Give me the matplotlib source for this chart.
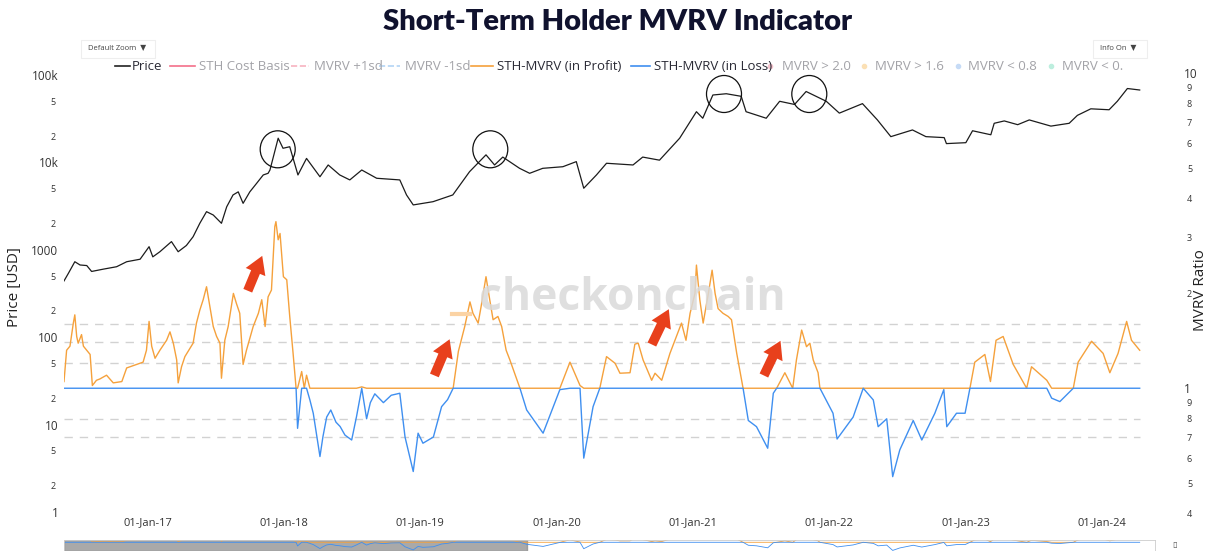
import numpy as np
import pandas as pd
import matplotlib
matplotlib.use("Agg")
import matplotlib.pyplot as plt
import matplotlib.dates as mdates
from matplotlib.ticker import FixedLocator, FixedFormatter, NullFormatter, NullLocator
from matplotlib.patches import Ellipse, FancyArrowPatch, Rectangle, ArrowStyle
from matplotlib.lines import Line2D

plt.rcParams['font.family'] = ['Open Sans', 'DejaVu Sans']

# ---- data ----
price_dates = [
    "2016-05-21", "2016-06-02", "2016-06-19", "2016-07-03", "2016-07-21", "2016-08-03",
    "2016-09-03", "2016-10-09", "2016-11-05", "2016-12-11", "2017-01-04", "2017-01-14",
    "2017-02-02", "2017-03-05", "2017-03-23", "2017-04-14", "2017-05-02", "2017-05-20",
    "2017-06-07", "2017-06-25", "2017-07-17", "2017-07-31", "2017-08-17", "2017-08-31",
    "2017-09-13", "2017-10-01", "2017-10-19", "2017-11-06", "2017-11-19", "2017-11-24",
    "2017-12-16", "2017-12-29", "2018-01-16", "2018-02-07", "2018-03-02", "2018-04-07",
    "2018-04-29", "2018-05-30", "2018-06-26", "2018-07-28", "2018-09-06", "2018-11-07",
    "2018-11-25", "2018-12-13", "2019-02-04", "2019-03-29", "2019-05-13", "2019-06-26",
    "2019-07-19", "2019-08-10", "2019-09-24", "2019-10-21", "2019-11-25", "2020-01-18",
    "2020-02-23", "2020-03-14", "2020-04-17", "2020-05-14", "2020-07-24", "2020-08-19",
    "2020-10-03", "2020-11-26", "2021-01-10", "2021-01-27", "2021-02-23", "2021-03-31",
    "2021-05-10", "2021-05-23", "2021-07-16", "2021-08-21", "2021-09-30", "2021-10-31",
    "2021-12-24", "2022-01-28", "2022-03-31", "2022-05-10", "2022-06-15", "2022-08-12",
    "2022-09-17", "2022-11-05", "2022-11-11", "2023-01-02", "2023-01-20", "2023-03-10",
    "2023-03-19", "2023-04-15", "2023-05-21", "2023-06-21", "2023-08-18", "2023-10-06",
    "2023-10-28", "2023-12-03", "2024-01-21", "2024-02-12", "2024-03-10", "2024-04-12",
]
price_usd = [
    440, 540, 730, 670, 660, 565,
    600, 640, 730, 780, 1085, 830,
    950, 1240, 950, 1120, 1410, 2010,
    2730, 2500, 2010, 3100, 4240, 4600,
    3400, 4600, 5740, 7180, 7500, 8180,
    18900, 14500, 15100, 7180, 11100, 6850,
    9340, 7180, 6300, 8180, 6580, 6300,
    4240, 3260, 3550, 4240, 7830, 12200,
    9340, 11500, 8550, 7500, 8550, 8920,
    10200, 5060, 7180, 9770, 9340, 11500,
    10600, 18900, 38000, 32000, 59000, 61000,
    57000, 38000, 32000, 50000, 46000, 64700,
    50000, 36600, 47000, 30600, 19700, 23500,
    19700, 19200, 16400, 16800, 23000, 20700,
    28000, 29800, 27000, 30600, 26000, 28000,
    34500, 41000, 40000, 50000, 70000, 67300,
]

mvrv_dates = [
    "2016-05-21", "2016-05-28", "2016-06-06", "2016-06-15", "2016-06-19", "2016-06-24",
    "2016-06-28", "2016-07-07", "2016-07-12", "2016-07-21", "2016-07-30", "2016-08-05",
    "2016-08-16", "2016-08-25", "2016-09-12", "2016-09-30", "2016-10-23", "2016-11-05",
    "2016-12-02", "2016-12-19", "2016-12-28", "2017-01-04", "2017-01-11", "2017-01-20",
    "2017-02-02", "2017-02-20", "2017-03-01", "2017-03-10", "2017-03-19", "2017-03-23",
    "2017-04-01", "2017-04-10", "2017-05-02", "2017-05-11", "2017-05-20", "2017-05-29",
    "2017-06-07", "2017-06-16", "2017-06-25", "2017-07-04", "2017-07-13", "2017-07-17",
    "2017-07-26", "2017-08-04", "2017-08-18", "2017-08-26", "2017-09-04", "2017-09-13",
    "2017-09-22", "2017-10-10", "2017-10-24", "2017-11-02", "2017-11-11", "2017-11-19",
    "2017-11-28", "2017-12-07", "2017-12-10", "2017-12-16", "2017-12-21", "2017-12-30",
    "2018-01-08", "2018-01-16", "2018-01-25", "2018-02-02", "2018-02-06", "2018-02-17",
    "2018-02-24", "2018-03-02", "2018-03-11", "2018-03-20", "2018-04-07", "2018-04-15",
    "2018-04-25", "2018-05-06", "2018-05-20", "2018-05-31", "2018-06-13", "2018-07-01",
    "2018-07-14", "2018-07-28", "2018-08-10", "2018-08-20", "2018-09-01", "2018-09-24",
    "2018-10-15", "2018-11-07", "2018-11-21", "2018-12-13", "2018-12-26", "2019-01-08",
    "2019-02-05", "2019-02-27", "2019-03-15", "2019-03-30", "2019-04-13", "2019-04-30",
    "2019-05-14", "2019-05-22", "2019-06-05", "2019-06-13", "2019-06-26", "2019-07-06",
    "2019-07-15", "2019-07-28", "2019-08-07", "2019-08-19", "2019-08-29", "2019-09-25",
    "2019-10-13", "2019-11-26", "2020-01-10", "2020-02-06", "2020-03-04", "2020-03-14",
    "2020-04-08", "2020-04-26", "2020-05-14", "2020-06-06", "2020-06-19", "2020-07-16",
    "2020-07-29", "2020-08-07", "2020-08-20", "2020-09-12", "2020-09-21", "2020-10-09",
    "2020-10-31", "2020-12-01", "2020-12-13", "2020-12-24", "2021-01-06", "2021-01-10",
    "2021-01-19", "2021-01-28", "2021-02-11", "2021-02-21", "2021-03-01", "2021-03-09",
    "2021-03-22", "2021-04-05", "2021-04-14", "2021-04-28", "2021-05-15", "2021-05-29",
    "2021-06-20", "2021-07-20", "2021-08-04", "2021-08-13", "2021-09-04", "2021-09-25",
    "2021-10-05", "2021-10-19", "2021-11-01", "2021-11-10", "2021-11-19", "2021-12-02",
    "2021-12-07", "2022-01-11", "2022-01-22", "2022-03-06", "2022-04-02", "2022-04-29",
    "2022-05-12", "2022-06-04", "2022-06-20", "2022-07-09", "2022-08-14", "2022-09-06",
    "2022-10-11", "2022-11-04", "2022-11-12", "2022-12-08", "2022-12-31", "2023-01-13",
    "2023-01-26", "2023-02-22", "2023-03-09", "2023-03-24", "2023-04-12", "2023-05-09",
    "2023-06-14", "2023-06-27", "2023-08-07", "2023-08-20", "2023-09-11", "2023-10-17",
    "2023-10-30", "2023-12-05", "2024-01-05", "2024-01-23", "2024-02-14", "2024-03-08",
    "2024-03-21", "2024-04-12",
]
sth_mvrv = [
    1.05, 1.32, 1.36, 1.61, 1.71, 1.46,
    1.39, 1.48, 1.36, 1.32, 1.28, 1.02,
    1.06, 1.07, 1.10, 1.04, 1.05, 1.16,
    1.19, 1.21, 1.32, 1.63, 1.36, 1.245,
    1.32, 1.42, 1.51, 1.39, 1.23, 1.04,
    1.17, 1.26, 1.39, 1.61, 1.77, 1.91,
    2.10, 1.82, 1.57, 1.46, 1.39, 1.076,
    1.42, 1.57, 2.0, 1.86, 1.73, 1.19,
    1.32, 1.57, 1.73, 1.91, 1.57, 1.95,
    2.05, 3.26, 3.38, 2.96, 3.10, 2.26,
    2.21, 1.69, 1.29, 1.0, 0.746, 1.13,
    1.0, 1.10, 0.918, 0.833, 0.607, 0.702,
    0.81, 0.853, 0.78, 0.756, 0.71, 0.685,
    0.813, 1.01, 0.80, 0.90, 0.96, 0.90,
    0.95, 0.964, 0.70, 0.544, 0.72, 0.669,
    0.70, 0.874, 0.92, 1.0, 1.31, 1.57,
    1.88, 1.73, 1.61, 1.82, 2.26, 1.91,
    1.65, 1.69, 1.57, 1.32, 1.23, 1.0,
    0.853, 0.72, 0.99, 1.21, 1.02, 0.60,
    0.874, 1.0, 1.26, 1.2, 1.116, 1.12,
    1.38, 1.39, 1.23, 1.06, 1.116, 1.06,
    1.29, 1.61, 1.42, 1.73, 2.0, 2.46,
    1.91, 1.61, 2.0, 2.37, 2.0, 1.79,
    1.73, 1.69, 1.65, 1.29, 1.0, 0.79,
    0.755, 0.645, 0.964, 1.0, 1.12, 1.0,
    1.23, 1.53, 1.355, 1.39, 1.23, 1.12,
    1.0, 0.833, 0.69, 0.81, 1.0, 0.918,
    0.755, 0.80, 0.524, 0.637, 0.79, 0.685,
    0.833, 0.99, 0.755, 0.833, 0.833, 1.0,
    1.21, 1.28, 1.05, 1.42, 1.46, 1.19,
    1.0, 1.17, 1.06, 0.93, 0.907, 1.0,
    1.21, 1.41, 1.29, 1.12, 1.29, 1.63,
    1.42, 1.32,
]

band_levels = [1.6, 1.4, 1.2, 0.8, 0.7]
year_ticks = ["2017-01-01", "2018-01-01", "2019-01-01", "2020-01-01",
              "2021-01-01", "2022-01-01", "2023-01-01", "2024-01-01"]

price_major = [1, 10, 100, 1000, 10000, 100000]
price_major_lbl = ["1", "10", "100", "1000", "10k", "100k"]
price_minor = [2, 5, 20, 50, 200, 500, 2000, 5000, 20000, 50000]
price_minor_lbl = ["2", "5"] * 5
mvrv_major = [1, 10]
mvrv_minor = [0.4, 0.5, 0.6, 0.7, 0.8, 0.9, 2, 3, 4, 5, 6, 7, 8, 9]
mvrv_minor_lbl = ["4", "5", "6", "7", "8", "9", "2", "3", "4", "5", "6", "7", "8", "9"]

ORANGE = "#f5a13c"
BLUE = "#3f8ff0"
DARK = "#2a2a35"
GREY_TXT = "#a3a3a8"

W, H = 1212, 551


def fx(px):
    return px / W


def fy(py):
    return 1 - py / H


pdates = pd.to_datetime(price_dates)
mdates_ = pd.to_datetime(mvrv_dates)
mvrv = np.array(sth_mvrv)
in_profit = np.maximum(mvrv, 1.0)
in_loss = np.minimum(mvrv, 1.0)

fig = plt.figure(figsize=(W / 100, H / 100), dpi=100)
ax = fig.add_axes([fx(64), fy(516), (1155 - 64) / W, (516 - 70) / H])
ax2 = ax.twinx()

ax.plot(pdates, price_usd, color="#1c1c1c", lw=0.9)
ax.set_yscale("log")
ax.set_ylim(0.9, 114000)

ax2.hlines(band_levels, mdates_[0], mdates_[-1], colors="#d2d2d2",
           linestyles=(0, (6, 5)), lw=1.0)
ax2.plot(mdates_, in_profit, color=ORANGE, lw=1.0)
ax2.plot(mdates_, in_loss, color=BLUE, lw=1.0)
ax2.set_yscale("log")
ax2.set_ylim(0.393, 10.24)

ax.set_xlim(pd.Timestamp("2016-05-21"), pd.Timestamp("2024-05-23"))

ax.yaxis.set_major_locator(FixedLocator(price_major))
ax.yaxis.set_major_formatter(FixedFormatter(price_major_lbl))
ax.yaxis.set_minor_locator(FixedLocator(price_minor))
ax.yaxis.set_minor_formatter(FixedFormatter(price_minor_lbl))
ax.tick_params(axis="y", which="major", length=0, pad=4, labelsize=8.5, labelcolor="#333")
ax.tick_params(axis="y", which="minor", length=0, pad=6, labelsize=6.5, labelcolor="#333")

ax2.yaxis.set_major_locator(FixedLocator(mvrv_major))
ax2.yaxis.set_major_formatter(FixedFormatter(["1", "10"]))
ax2.yaxis.set_minor_locator(FixedLocator(mvrv_minor))
ax2.yaxis.set_minor_formatter(FixedFormatter(mvrv_minor_lbl))
ax2.tick_params(axis="y", which="major", length=0, pad=21, labelsize=8.5, labelcolor="#333")
ax2.tick_params(axis="y", which="minor", length=0, pad=23, labelsize=6.5, labelcolor="#333")

ax.xaxis.set_major_locator(FixedLocator(mdates.date2num(pd.to_datetime(year_ticks))))
ax.xaxis.set_major_formatter(mdates.DateFormatter("%d-%b-%y"))
ax.tick_params(axis="x", length=0, pad=1, labelsize=8, labelcolor="#333")

for a in (ax, ax2):
    for s in a.spines.values():
        s.set_visible(False)

# titles and axis labels
fig.text(fx(618), fy(22), "Short-Term Holder MVRV Indicator", ha="center", va="center",
         fontsize=21, fontweight="heavy", color="#10122e", family=["Lato", "DejaVu Sans"])
fig.text(fx(15), fy(287), "Price [USD]", rotation=90, ha="center", va="center",
         fontsize=11, color="#222")
fig.text(fx(1200), fy(290), "MVRV Ratio", rotation=90, ha="center", va="center",
         fontsize=11, color="#222")

# watermark
fig.text(fx(632), fy(310), "checkonchain", ha="center", va="baseline", fontsize=32,
         fontweight="bold", color="#dadada", alpha=0.85, zorder=0)
fig.add_artist(Line2D([fx(452), fx(470)], [fy(314), fy(314)], color="#fbd3a4", lw=3))

# legend (drawn by hand to match the clipped plotly legend)
ly = fy(66)
leg_lines = [
    (115, 130, "#222222", "-", "Price", 132, DARK),
    (170, 195, "#f4708a", "-", "STH Cost Basis", 199, GREY_TXT),
    (291, 309, "#f7b3c0", "--", "MVRV +1sd", 314, GREY_TXT),
    (379, 400, "#b3d4f5", "--", "MVRV -1sd", 405, GREY_TXT),
    (471, 493, ORANGE, "-", "STH-MVRV (in Profit)", 497, DARK),
    (631, 650, BLUE, "-", "STH-MVRV (in Loss)", 654, DARK),
]
for x0, x1, c, ls, lbl, tx, tc in leg_lines:
    fig.add_artist(Line2D([fx(x0), fx(x1)], [ly, ly], color=c, ls=ls, lw=1.2))
    fig.text(fx(tx), ly, lbl, ha="left", va="center", fontsize=9.5, color=tc)
leg_dots = [
    (770, "#f6c3cd", "MVRV > 2.0", 782),
    (864, "#fbe0b5", "MVRV > 1.6", 875),
    (958, "#c6dbf6", "MVRV < 0.8", 968),
    (1051, "#bdeede", "MVRV < 0.", 1062),
]
for dx, c, lbl, tx in leg_dots:
    fig.add_artist(Line2D([fx(dx)], [ly], marker="o", ms=3, color=c, lw=0))
    fig.text(fx(tx), ly, lbl, ha="left", va="center", fontsize=9.5, color=GREY_TXT)

# dropdown buttons
for bx0, bx1, lbl in [(81, 155, "Default Zoom  \u25bc"), (1093, 1147, "Info On  \u25bc")]:
    fig.add_artist(Rectangle((fx(bx0), fy(58)), (bx1 - bx0) / W, 18 / H, fc="white",
                             ec="#eeeeee", lw=0.8))
    fig.text(fx(bx0 + 7), fy(49), lbl, ha="left", va="center", fontsize=5.5, color="#444")

# circles around price peaks
for cx, cy in [(277.7, 149.3), (490.3, 149.3), (724, 94), (809.3, 94)]:
    fig.add_artist(Ellipse((fx(cx), fy(cy)), 35 / W, 37 / H, fill=False, ec="#111", lw=0.9))

# red arrows
for (x0, y0), (x1, y1) in [((246.7, 293.3), (263.3, 253.3)), ((433.3, 378), (450.7, 336.7)),
                           ((650.7, 347), (670, 306.7)), ((762.7, 378), (781.7, 338.3))]:
    fig.add_artist(FancyArrowPatch((fx(x0), fy(y0)), (fx(x1), fy(y1)),
                                   transform=fig.transFigure,
                                   arrowstyle=ArrowStyle.Simple(head_length=0.7, head_width=0.85,
                                                                tail_width=0.38),
                                   mutation_scale=18, color="#e8401c", lw=0))

# range slider strip at the bottom
rs = fig.add_axes([fx(64), 0, (1155 - 64) / W, 11 / H])
rs.plot(mdates_, in_profit, color=ORANGE, lw=0.6)
rs.plot(mdates_, in_loss, color=BLUE, lw=0.6)
rs.set_yscale("log")
rs.set_ylim(0.5, 1.2)
rs.set_xlim(ax.get_xlim())
rs.axvspan(pd.Timestamp("2016-05-21"), pd.Timestamp("2019-10-14"), color="#8c8c8c", alpha=0.75)
for axis in (rs.xaxis, rs.yaxis):
    axis.set_major_locator(NullLocator())
    axis.set_minor_locator(NullLocator())
    axis.set_major_formatter(NullFormatter())
    axis.set_minor_formatter(NullFormatter())
for s in rs.spines.values():
    s.set_color("#cccccc")
    s.set_linewidth(0.6)
fig.text(fx(1175), fy(546), "\u25af", ha="center", va="center", fontsize=6, color="#555")

fig.savefig("out.png", dpi=100)
